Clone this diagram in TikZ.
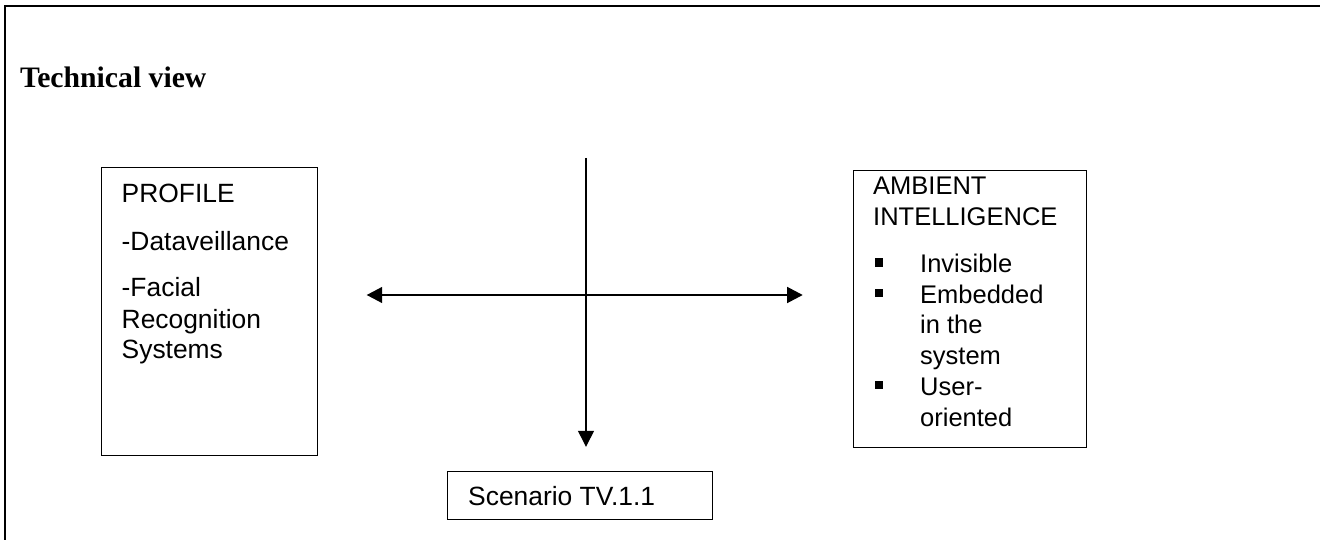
\documentclass[tikz,border=0pt]{standalone}
\usepackage{fontspec}
\setmainfont{Liberation Sans}
\newfontfamily\serifbold{Liberation Serif}
\usetikzlibrary{arrows.meta}
\tikzset{
  x=1bp,y=-1bp,
  box/.style={draw=black,line width=1.1bp,fill=none,anchor=north west,inner sep=0pt},
  txt/.style={anchor=base west,inner sep=0pt,font=\fontsize{26.4bp}{30bp}\selectfont},
  txtb/.style={anchor=base west,inner sep=0pt,font=\fontsize{25.5bp}{30bp}\selectfont},
  blt/.style={fill=black,draw=none,minimum size=8.5bp,inner sep=0pt,rectangle},
  axis/.style={draw=black,line width=1.3bp},
}
\begin{document}
\begin{tikzpicture}
\useasboundingbox (0,0) rectangle (1320,540);
\draw[line width=2bp] (5,540) -- (5,6) -- (1320,6);
\node[txt,font=\serifbold\bfseries\fontsize{29.7bp}{34bp}\selectfont] (title) at (20,87.5) {Technical view};
% boxes
\node[box,minimum width=216bp,minimum height=288bp] (prof) at (100.5,167) {};
\node[box,minimum width=232.5bp,minimum height=277bp] (amb) at (853,170) {};
\node[box,minimum width=264.5bp,minimum height=48.5bp] (scen) at (447,470.5) {};
% profile text
\node[txt] (p1) at (121.5,202.5) {PROFILE};
\node[txt] (p2) at (121.5,250.5) {-Dataveillance};
\node[txt] (p3) at (121.5,296.5) {-Facial};
\node[txt] (p4) at (121.5,328) {Recognition};
\node[txt] (p5) at (121.5,358.5) {Systems};
% ambient text
\node[txtb] (a1) at (873,195) {AMBIENT};
\node[txtb] (a2) at (873,226) {INTELLIGENCE};
\node[blt] (b1) at (879,262.5) {};
\node[blt] (b2) at (879,293) {};
\node[blt] (b3) at (879,385) {};
\node[txtb] (a3) at (920,272) {Invisible};
\node[txtb] (a4) at (920,303) {Embedded};
\node[txtb] (a5) at (920,333.5) {in the};
\node[txtb] (a6) at (920,364) {system};
\node[txtb] (a7) at (920,395) {User-};
\node[txtb] (a8) at (920,426) {oriented};
% scenario
\node[txt] (s1) at (468,505.5) {Scenario TV.1.1};
% arrows
\coordinate (vtop) at (586,158);
\coordinate (vbot) at (586,446.8);
\coordinate (hl) at (366.7,295);
\coordinate (hr) at (802.7,295);
\draw[axis,-{Triangle[length=16bp,width=16bp]}] (vtop) -- (vbot);
\draw[axis,{Triangle[length=15.5bp,width=16bp]}-{Triangle[length=15.5bp,width=16bp]}] (hl) -- (hr);
\end{tikzpicture}
\end{document}
